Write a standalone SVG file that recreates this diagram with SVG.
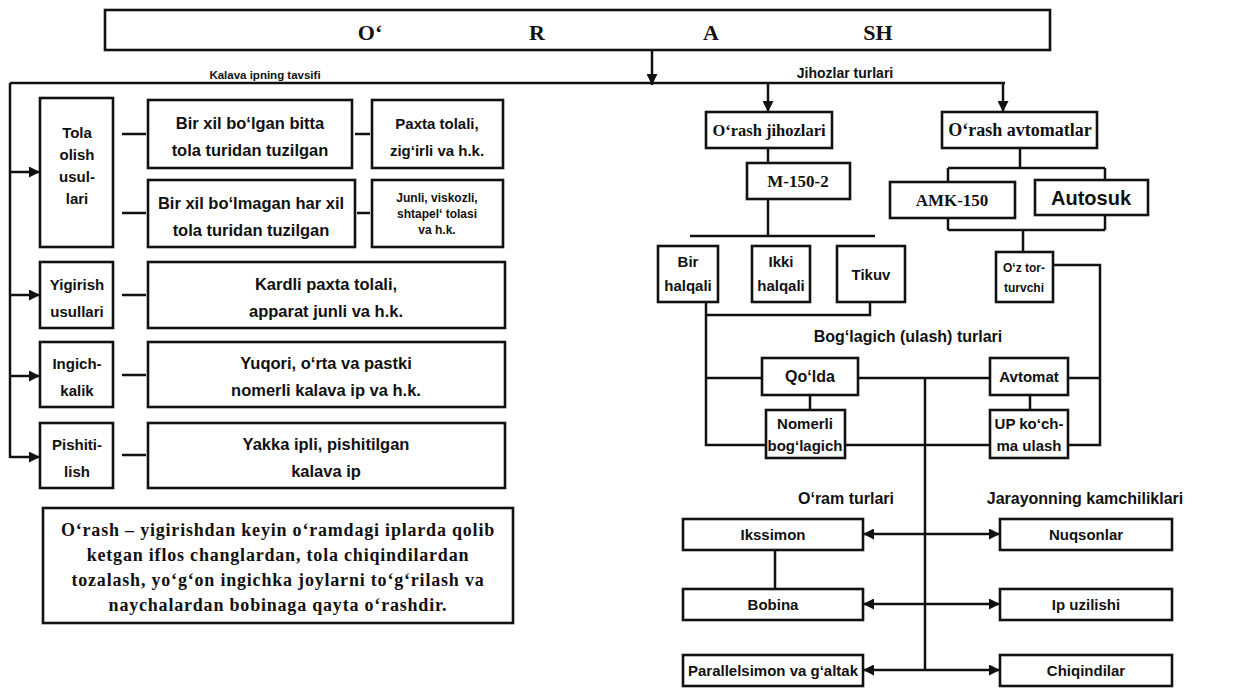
<svg xmlns="http://www.w3.org/2000/svg" width="1258" height="700" viewBox="0 0 1258 700">
<defs>
<marker id="ah" viewBox="0 0 10 10" refX="10" refY="5" markerWidth="11" markerHeight="11" markerUnits="userSpaceOnUse" orient="auto-start-reverse">
<path d="M0,0 L10,5 L0,10 z" fill="#111"/>
</marker>
<style>
.box{fill:#fff;stroke:#111;stroke-width:2.6}
.ln{stroke:#111;stroke-width:2.5;fill:none}
.t{font-family:"Liberation Sans",Arial,sans-serif;font-weight:bold;font-size:15px;text-anchor:middle;fill:#111}
.m{font-size:16.5px}
.sm{font-size:12px}
.lab{font-size:16px}
.s{font-family:"Liberation Serif","Times New Roman",serif;font-weight:bold;text-anchor:middle;fill:#111}
.def{font-size:18px;letter-spacing:0.8px}
</style>
</defs>
<rect width="1258" height="700" fill="#fff"/>

<g id="connectors">
<path class="ln" d="M652,50 V85" marker-end="url(#ah)"/>
<path class="ln" d="M10,83 H1005"/>
<path class="ln" d="M10,83 V458"/>
<path class="ln" d="M10,172 H40" marker-end="url(#ah)"/>
<path class="ln" d="M10,295 H40" marker-end="url(#ah)"/>
<path class="ln" d="M10,376 H40" marker-end="url(#ah)"/>
<path class="ln" d="M10,457 H40" marker-end="url(#ah)"/>
<path class="ln" d="M122,134 H146 M122,213 H146 M355,134 H370 M357,213 H370 M122,295 H146 M122,375 H146 M122,455 H146"/>
<path class="ln" d="M768,83 V112" marker-end="url(#ah)"/>
<path class="ln" d="M1003,83 V112" marker-end="url(#ah)"/>
<path class="ln" d="M768,148 V163"/>
<path class="ln" d="M768,199 V236 M690,236 H875"/>
<path class="ln" d="M1020,148 V168 M948,168 H1105 M948,168 V182 M1105,168 V180"/>
<path class="ln" d="M948,218 V230 M1105,215 V230 M948,230 H1105 M1023,230 V252"/>
<path class="ln" d="M1053,265 H1100 V445 H1068 M1068,378 H1100"/>
<path class="ln" d="M706,302 V445 H766 M706,315 H870 V302 M706,378 H762"/>
<path class="ln" d="M858,378 H990 M845,445 H990 M810,395 V410 M1030,395 V410"/>
<path class="ln" d="M925,378 V670"/>
<path class="ln" d="M925,534 H863" marker-end="url(#ah)"/>
<path class="ln" d="M925,534 H1000" marker-end="url(#ah)"/>
<path class="ln" d="M925,604 H863" marker-end="url(#ah)"/>
<path class="ln" d="M925,604 H1000" marker-end="url(#ah)"/>
<path class="ln" d="M925,670 H863" marker-end="url(#ah)"/>
<path class="ln" d="M925,670 H1000" marker-end="url(#ah)"/>
<path class="ln" d="M775,549 V589"/>
<text class="t" style="font-size:11.5px" x="265" y="79">Kalava ipning tavsifi</text>
<text class="t" style="font-size:14px" x="845" y="78">Jihozlar turlari</text>
<text class="t lab" x="908" y="342">Bog‘lagich (ulash) turlari</text>
<text class="t lab" x="846" y="504">O‘ram turlari</text>
<text class="t lab" x="1085" y="504">Jarayonning kamchiliklari</text>
</g>

<g id="title">
<rect class="box" x="105" y="10" width="945" height="40"/>
<text class="s" font-size="22" x="370" y="40">O‘</text>
<text class="s" font-size="22" x="537" y="40">R</text>
<text class="s" font-size="22" x="711" y="40">A</text>
<text class="s" font-size="22" x="878" y="40">SH</text>
</g>

<g id="tola">
<rect class="box" x="40" y="98" width="73" height="149"/>
<text class="t" x="77" y="138">Tola</text>
<text class="t" x="77" y="160">olish</text>
<text class="t" x="77" y="182">usul-</text>
<text class="t" x="77" y="204">lari</text>
</g>
<g id="bir-xil-bolgan">
<rect class="box" x="148" y="100" width="204" height="68"/>
<text class="t m" x="250" y="129">Bir xil bo‘lgan bitta</text>
<text class="t m" x="250" y="156">tola turidan tuzilgan</text>
</g>
<g id="paxta">
<rect class="box" x="372" y="100" width="131" height="68"/>
<text class="t" x="437" y="129">Paxta tolali,</text>
<text class="t" x="437" y="156">zig‘irli va h.k.</text>
</g>
<g id="bir-xil-bolmagan">
<rect class="box" x="148" y="180" width="207" height="67"/>
<text class="t m" x="251" y="209">Bir xil bo‘lmagan har xil</text>
<text class="t m" x="251" y="236">tola turidan tuzilgan</text>
</g>
<g id="junli">
<rect class="box" x="372" y="180" width="131" height="67"/>
<text class="t sm" x="437" y="202">Junli, viskozli,</text>
<text class="t sm" x="437" y="218">shtapel‘ tolasi</text>
<text class="t sm" x="437" y="234">va h.k.</text>
</g>
<g id="yigirish">
<rect class="box" x="40" y="262" width="73" height="66"/>
<text class="t" x="77" y="290">Yigirish</text>
<text class="t" x="77" y="317">usullari</text>
</g>
<g id="kardli">
<rect class="box" x="148" y="262" width="357" height="66"/>
<text class="t m" x="326" y="290">Kardli paxta tolali,</text>
<text class="t m" x="326" y="317">apparat junli va h.k.</text>
</g>
<g id="ingichkalik">
<rect class="box" x="40" y="342" width="73" height="65"/>
<text class="t" x="77" y="369">Ingich-</text>
<text class="t" x="77" y="396">kalik</text>
</g>
<g id="yuqori">
<rect class="box" x="148" y="342" width="357" height="65"/>
<text class="t m" x="326" y="369">Yuqori, o‘rta va pastki</text>
<text class="t m" x="326" y="396">nomerli kalava ip va h.k.</text>
</g>
<g id="pishitilish">
<rect class="box" x="40" y="423" width="73" height="65"/>
<text class="t" x="77" y="450">Pishiti-</text>
<text class="t" x="77" y="477">lish</text>
</g>
<g id="yakka">
<rect class="box" x="148" y="423" width="357" height="65"/>
<text class="t m" x="326" y="450">Yakka ipli, pishitilgan</text>
<text class="t m" x="326" y="477">kalava ip</text>
</g>
<g id="tarif">
<rect class="box" x="43" y="508" width="470" height="115"/>
<text class="s def" x="278" y="536">O‘rash – yigirishdan keyin o‘ramdagi iplarda qolib</text>
<text class="s def" x="278" y="561">ketgan iflos changlardan, tola chiqindilardan</text>
<text class="s def" x="278" y="586">tozalash, yo‘g‘on ingichka joylarni to‘g‘rilash va</text>
<text class="s def" x="278" y="611">naychalardan bobinaga qayta o‘rashdir.</text>
</g>

<g id="orash-jihozlari">
<rect class="box" x="706" y="112" width="126" height="36"/>
<text class="s" font-size="16.5" x="769" y="136">O‘rash jihozlari</text>
</g>
<g id="orash-avtomatlar">
<rect class="box" x="942" y="112" width="155" height="36"/>
<text class="s" font-size="18" x="1020" y="136">O‘rash avtomatlar</text>
</g>
<g id="m150">
<rect class="box" x="747" y="163" width="103" height="36"/>
<text class="s" font-size="17" x="798" y="187">M-150-2</text>
</g>
<g id="amk150">
<rect class="box" x="890" y="182" width="125" height="36"/>
<text class="s" font-size="17" x="952" y="206">AMK-150</text>
</g>
<g id="autosuk">
<rect class="box" x="1035" y="180" width="113" height="35"/>
<text class="t" style="font-size:20px" x="1091" y="205">Autosuk</text>
</g>
<g id="bir-halqali">
<rect class="box" x="658" y="246" width="60" height="56"/>
<text class="t" x="688" y="267">Bir</text>
<text class="t" x="688" y="291">halqali</text>
</g>
<g id="ikki-halqali">
<rect class="box" x="752" y="246" width="58" height="56"/>
<text class="t" x="781" y="267">Ikki</text>
<text class="t" x="781" y="291">halqali</text>
</g>
<g id="tikuv">
<rect class="box" x="837" y="246" width="68" height="56"/>
<text class="t" x="871" y="280">Tikuv</text>
</g>
<g id="oz-tortuvchi">
<rect class="box" x="996" y="252" width="57" height="50"/>
<text class="t sm" x="1024" y="272">O‘z tor-</text>
<text class="t sm" x="1024" y="292">turvchi</text>
</g>
<g id="qolda">
<rect class="box" x="762" y="358" width="96" height="37"/>
<text class="t lab" x="810" y="382">Qo‘lda</text>
</g>
<g id="avtomat">
<rect class="box" x="990" y="358" width="78" height="37"/>
<text class="t" x="1029" y="382">Avtomat</text>
</g>
<g id="nomerli">
<rect class="box" x="766" y="410" width="79" height="48"/>
<text class="t" x="805" y="429">Nomerli</text>
<text class="t" x="805" y="451">bog‘lagich</text>
</g>
<g id="up">
<rect class="box" x="990" y="410" width="78" height="48"/>
<text class="t" x="1029" y="429">UP ko‘ch-</text>
<text class="t" x="1029" y="451">ma ulash</text>
</g>
<g id="ikssimon">
<rect class="box" x="683" y="519" width="180" height="31"/>
<text class="t" x="773" y="540">Ikssimon</text>
</g>
<g id="nuqsonlar">
<rect class="box" x="1000" y="519" width="172" height="31"/>
<text class="t" x="1086" y="540">Nuqsonlar</text>
</g>
<g id="bobina">
<rect class="box" x="683" y="589" width="180" height="31"/>
<text class="t" x="773" y="610">Bobina</text>
</g>
<g id="ip-uzilishi">
<rect class="box" x="1000" y="589" width="172" height="31"/>
<text class="t" x="1086" y="610">Ip uzilishi</text>
</g>
<g id="parallelsimon">
<rect class="box" x="683" y="655" width="180" height="31"/>
<text class="t" x="773" y="676">Parallelsimon va g‘altak</text>
</g>
<g id="chiqindilar">
<rect class="box" x="1000" y="655" width="172" height="31"/>
<text class="t" x="1086" y="676">Chiqindilar</text>
</g>
</svg>
